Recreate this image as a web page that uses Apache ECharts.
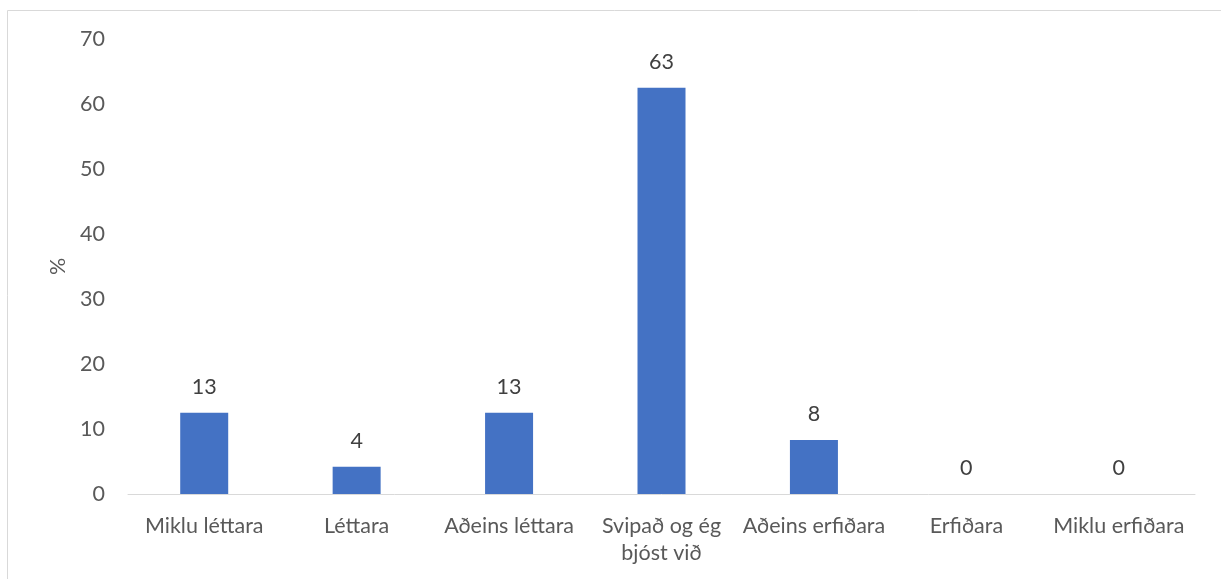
<!DOCTYPE html>
<html><head><meta charset="utf-8">
<script src="https://cdn.jsdelivr.net/npm/echarts@6/dist/echarts.min.js"></script>
<style>html,body{margin:0;padding:0;background:#fff}#c{width:1221px;height:579px}</style>
</head><body><div id="c"></div>
<script>
var categories = ['Miklu léttara', 'Léttara', 'Aðeins léttara', 'Svipað og ég\nbjóst við', 'Aðeins erfiðara', 'Erfiðara', 'Miklu erfiðara'];
var values = [12.5, 4.2, 12.5, 62.5, 8.3, 0, 0];
var yTicks = {min: 0, max: 70, interval: 10};
var font = 'Lato, Open Sans, sans-serif';
var fs = 21.5;
var chart = echarts.init(document.getElementById('c'));
chart.setOption({
  animation: false,
  graphic: [{type: 'rect', shape: {x: 7.5, y: 10.5, width: 1300, height: 700}, style: {fill: 'none', stroke: '#d9d9d9', lineWidth: 1}}],
  grid: {left: 128, right: 26, top: 39, bottom: 85, containLabel: false},
  xAxis: {
    type: 'category', data: categories,
    axisLine: {lineStyle: {color: '#d9d9d9', width: 1}},
    axisTick: {show: false},
    axisLabel: {color: '#595959', fontSize: fs, fontFamily: font, margin: 19, lineHeight: 27, interval: 0}
  },
  yAxis: {
    type: 'value', min: yTicks.min, max: yTicks.max, interval: yTicks.interval,
    name: '%', nameLocation: 'middle', nameGap: 59, nameRotate: 90,
    nameTextStyle: {color: '#595959', fontSize: fs, fontFamily: font},
    axisLine: {show: false}, axisTick: {show: false}, splitLine: {show: false},
    axisLabel: {color: '#595959', fontSize: fs, fontFamily: font, margin: 23}
  },
  series: [{
    type: 'bar', data: values, barWidth: 48, itemStyle: {color: '#4472c4'},
    label: {show: true, position: 'top', distance: 15, color: '#404040', fontSize: fs, fontFamily: font,
      formatter: function (p) { return String(Math.round(p.value)); }}
  }]
});
</script></body></html>
